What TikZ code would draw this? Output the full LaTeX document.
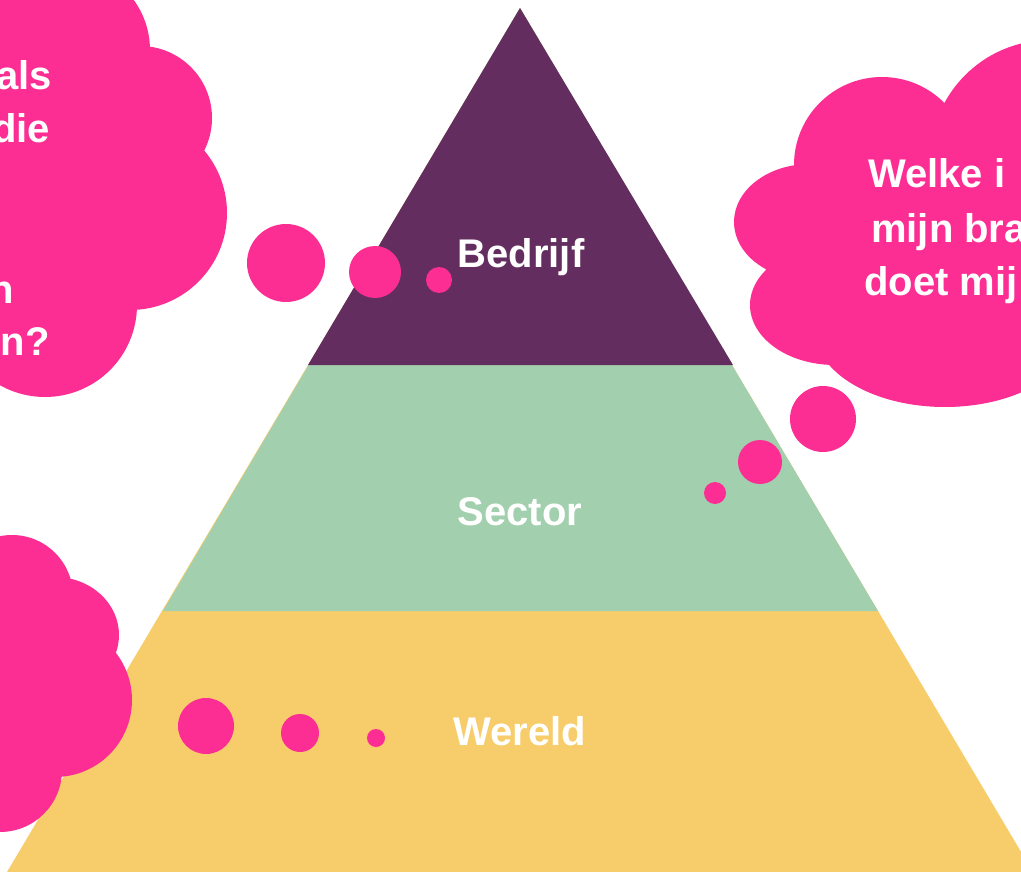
\documentclass[tikz,border=0pt]{standalone}
\usepackage{fontspec}
\setmainfont{Liberation Sans}
\usetikzlibrary{positioning}
\definecolor{wine}{HTML}{632E5F}
\definecolor{mint}{HTML}{A2CFAD}
\definecolor{sand}{HTML}{F7CD6C}
\definecolor{bubble}{HTML}{FC2E93}
\tikzset{puff/.style={fill=bubble},
  layer/.style={text=white,font=\bfseries\fontsize{40}{48}\selectfont,inner sep=0pt,anchor=base},
  thought/.style={text=white,font=\bfseries\fontsize{40}{48}\selectfont,inner sep=0pt}}

\begin{document}
\begin{tikzpicture}[x=1pt,y=-1pt]
		\useasboundingbox (0,0) rectangle (1021,872);
		\clip (0,0) rectangle (1021,872);
		% pyramid
		\coordinate (top) at (520,8);
		\fill[sand] (top) -- (7,872) -- (1033,872) -- cycle;
		\fill[mint] (top) -- (163,611) -- (878,611) -- cycle;
		\fill[wine] (top) -- (308,365) -- (733,365) -- cycle;
		\node[layer] (bedrijf) at (521,267) {Bedrijf};
		\node[layer] (sector) at (520,525) {Sector};
		\node[layer] (wereld) at (520,745) {Wereld};

		% clouds
		\fill[puff] (30,180) circle[radius=130] (65,50) circle[radius=85]
			(140,118) circle[radius=72] (130,213) circle[radius=97]
			(45,305) circle[radius=92];
		\fill[puff] (0,690) circle[radius=90] (12,596) circle[radius=61]
			(55,635) ellipse[x radius=64,y radius=58] (55,700) circle[radius=77]
			(0,770) circle[radius=62];
		\fill[puff] (930,240) circle[radius=120] (882,165) circle[radius=88]
			(1050,160) circle[radius=120] (810,222) ellipse[x radius=76,y radius=58]
			(835,305) ellipse[x radius=85,y radius=60]
			(945,330) ellipse[x radius=130,y radius=77];

		\foreach \cx/\cy/\r in {286/263/39,375/272/26,439/280/13,
				823/419/33,760/462/22,715/493/11,
				206/726/28,300/733/19,376/738/9}
			\fill[puff] (\cx,\cy) circle[radius=\r];

		% texts in clouds
		\node[thought,anchor=base east] (l1) at (52,90) {als};
		\node[thought,anchor=base east] (l2) at (50,143) {die};
		\node[thought,anchor=base east] (l3) at (14,303) {n};
		\node[thought,anchor=base east] (l4) at (50,355) {n?};
		\node[thought,anchor=base west] (r1) at (868,188) {Welke i};
		\node[thought,anchor=base west] (r2) at (871,242) {mijn bra};
		\node[thought,anchor=base west] (r3) at (864,295) {doet mij};
	\end{tikzpicture}
\end{document}
